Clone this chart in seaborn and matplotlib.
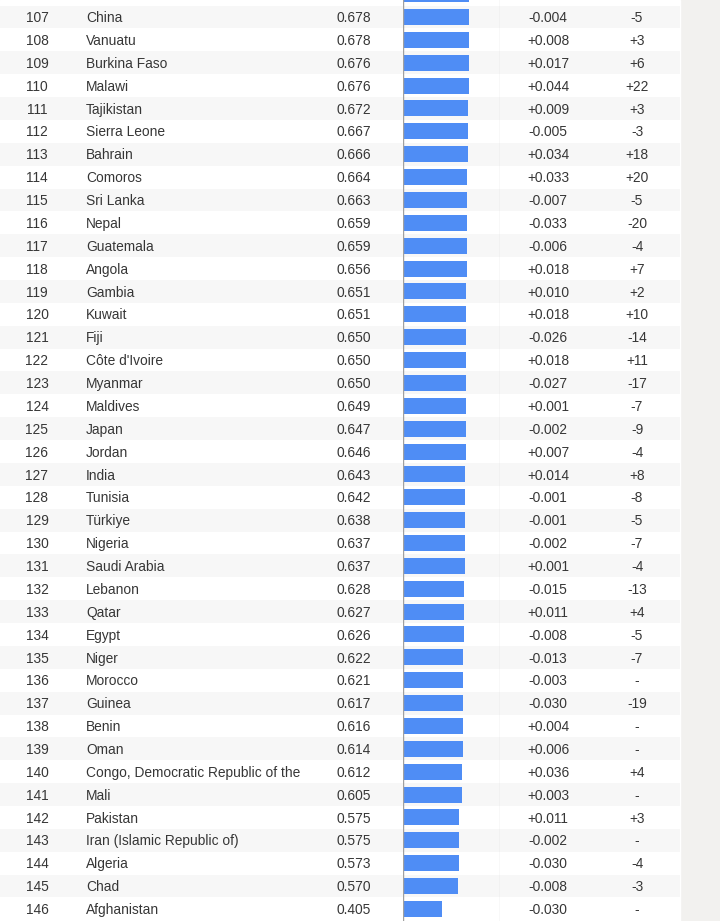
import numpy as np
import pandas as pd
import matplotlib
matplotlib.use("Agg")
import matplotlib.pyplot as plt
import seaborn as sns

# %% data (rows 106-146, row 106 is cut off at the top, only its bar shows)
ranks = list(range(106, 147))
countries = ["Cyprus", "China", "Vanuatu", "Burkina Faso", "Malawi", "Tajikistan", "Sierra Leone",
             "Bahrain", "Comoros", "Sri Lanka", "Nepal", "Guatemala", "Angola", "Gambia",
             "Kuwait", "Fiji", "Côte d'Ivoire", "Myanmar", "Maldives", "Japan", "Jordan",
             "India", "Tunisia", "Türkiye", "Nigeria", "Saudi Arabia", "Lebanon", "Qatar",
             "Egypt", "Niger", "Morocco", "Guinea", "Benin", "Oman",
             "Congo, Democratic Republic of the", "Mali", "Pakistan",
             "Iran (Islamic Republic of)", "Algeria", "Chad", "Afghanistan"]
scores = [0.678, 0.678, 0.678, 0.676, 0.676, 0.672, 0.667, 0.666, 0.664, 0.663, 0.659,
          0.659, 0.656, 0.651, 0.651, 0.650, 0.650, 0.650, 0.649, 0.647, 0.646, 0.643,
          0.642, 0.638, 0.637, 0.637, 0.628, 0.627, 0.626, 0.622, 0.621, 0.617, 0.616,
          0.614, 0.612, 0.605, 0.575, 0.575, 0.573, 0.570, 0.405]
score_change = ["-0.002", "-0.004", "+0.008", "+0.017", "+0.044", "+0.009", "-0.005", "+0.034",
                "+0.033", "-0.007", "-0.033", "-0.006", "+0.018", "+0.010", "+0.018",
                "-0.026", "+0.018", "-0.027", "+0.001", "-0.002", "+0.007", "+0.014",
                "-0.001", "-0.001", "-0.002", "+0.001", "-0.015", "+0.011", "-0.008",
                "-0.013", "-0.003", "-0.030", "+0.004", "+0.006", "+0.036", "+0.003",
                "+0.011", "-0.002", "-0.030", "-0.008", "-0.030"]
rank_change = ["-1", "-5", "+3", "+6", "+22", "+3", "-3", "+18", "+20", "-5", "-20", "-4", "+7",
               "+2", "+10", "-14", "+11", "-17", "-7", "-9", "-4", "+8", "-8", "-5", "-7",
               "-4", "-13", "+4", "-5", "-7", "-", "-19", "-", "-", "+4", "-", "+3", "-",
               "-4", "-3", "-"]

df = pd.DataFrame({"rank": ranks, "country": countries, "score": scores,
                   "change": score_change, "rank_change": rank_change})

# %% layout
W, H = 720, 921
row_h = 22.87
top = 107 - 17 / row_h
bottom = 107 + (H - 17) / row_h
text_col = "#363636"
fs = 9.9
dy = 0.05  # nudge text down a touch

plt.rcParams["font.family"] = ["Liberation Sans", "DejaVu Sans"]
fig = plt.figure(figsize=(W / 100, H / 100), dpi=100)
fig.patch.set_facecolor("#f2f1ef")

ax = fig.add_axes([0, 0, 1, 1])
ax.set_xlim(0, W)
ax.set_ylim(bottom, top)
ax.axis("off")

# row backgrounds
ax.axvspan(0, 680, color="white", zorder=0)
for r in df["rank"]:
    if r % 2 == 1:
        ax.fill_between([0, 680], r - 0.5, r + 0.5, color="#f7f7f7", lw=0, zorder=0.5)

for _, row in df[df["rank"] >= 107].iterrows():
    y = row["rank"] + dy
    ax.text(37, y, str(row["rank"]), ha="center", va="center", fontsize=fs, color=text_col)
    ax.text(86, y, row["country"], ha="left", va="center", fontsize=fs, color=text_col)
    ax.text(354, y, f"{row['score']:.3f}", ha="center", va="center", fontsize=fs, color=text_col)
    ax.text(548, y, row["change"], ha="center", va="center", fontsize=fs, color=text_col)
    ax.text(637, y, row["rank_change"], ha="center", va="center", fontsize=fs, color=text_col)

# %% bars
bx = fig.add_axes([403 / W, 0, 97 / W, 1])
bx.patch.set_alpha(0)
sns.barplot(data=df, x="score", y="rank", orient="h", native_scale=True,
            color="#4f8df5", saturation=1, width=0.7, ax=bx)
bx.set_xlim(0, 1)
bx.set_ylim(bottom, top)
bx.axvline(0, color="#a0a0a0", lw=1)
bx.axvline(1, color="#dcdcdc", lw=1)
bx.axis("off")

fig.savefig("out.png", dpi=100, facecolor=fig.get_facecolor())
